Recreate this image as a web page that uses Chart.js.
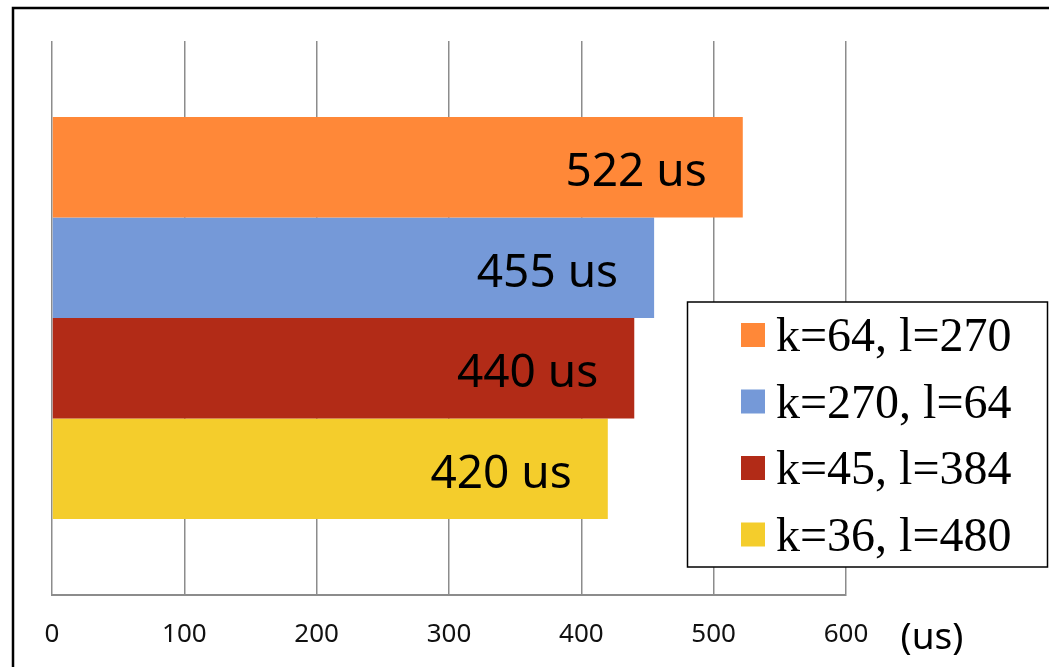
<!DOCTYPE html>
<html>
<head>
<meta charset="utf-8">
<style>
  html, body { margin: 0; padding: 0; background: #fff; }
  #wrap { width: 1049px; height: 667px; position: relative; }
</style>
<script src="https://cdn.jsdelivr.net/npm/chart.js@4/dist/chart.umd.min.js"></script>
</head>
<body>
<div id="wrap"><canvas id="c" width="1049" height="667"></canvas></div>
<script>
// Run times for each (k, l) configuration, in microseconds
const categories = [''];
const seriesLabels = ['k=64, l=270', 'k=270, l=64', 'k=45, l=384', 'k=36, l=480'];
const seriesValues = [[522], [455], [440], [420]];
const seriesColors = ['#FF8838', '#7599D8', '#B22B17', '#F4CD2C'];
const tickValues = [0, 100, 200, 300, 400, 500, 600];
const unitLabel = '(us)';

const sansFont = '"Noto Sans", "Open Sans", sans-serif';
const serifFont = '"Liberation Serif", "DejaVu Serif", serif';

// White page, outer frame and unit caption
const framePlugin = {
  id: 'frame',
  beforeDraw(chart) {
    const ctx = chart.ctx;
    ctx.save();
    ctx.fillStyle = '#ffffff';
    ctx.fillRect(0, 0, chart.width, chart.height);
    ctx.strokeStyle = '#000000';
    ctx.lineWidth = 2.5;
    ctx.beginPath();
    ctx.moveTo(13, chart.height + 5);
    ctx.lineTo(13, 8);
    ctx.lineTo(chart.width + 5, 8);
    ctx.stroke();
    ctx.restore();
  },
  afterDraw(chart) {
    const ctx = chart.ctx;
    ctx.save();
    ctx.fillStyle = '#000000';
    ctx.font = '37px ' + sansFont;
    ctx.textAlign = 'center';
    ctx.textBaseline = 'middle';
    ctx.fillText(unitLabel, 932, 638);
    ctx.restore();
  }
};

// Value labels inside the end of each bar
const valueLabelPlugin = {
  id: 'valueLabels',
  afterDatasetsDraw(chart) {
    const ctx = chart.ctx;
    ctx.save();
    ctx.font = '46px ' + sansFont;
    ctx.fillStyle = '#000000';
    ctx.textAlign = 'right';
    ctx.textBaseline = 'alphabetic';
    chart.data.datasets.forEach((ds, i) => {
      const meta = chart.getDatasetMeta(i);
      meta.data.forEach((bar, j) => {
        ctx.fillText(ds.data[j] + ' us', bar.x - 36, bar.y + 19);
      });
    });
    ctx.restore();
  }
};

// Boxed legend drawn over the plot area
const boxLegendPlugin = {
  id: 'boxLegend',
  afterDraw(chart) {
    const ctx = chart.ctx;
    const x = 687.5, y = 302, w = 360, h = 265;
    ctx.save();
    ctx.fillStyle = '#ffffff';
    ctx.fillRect(x, y, w, h);
    ctx.strokeStyle = '#000000';
    ctx.lineWidth = 1.5;
    ctx.strokeRect(x, y, w, h);
    ctx.font = '48px ' + serifFont;
    ctx.textAlign = 'left';
    ctx.textBaseline = 'alphabetic';
    chart.data.datasets.forEach((ds, i) => {
      const cy = 335 + i * 66.5;
      ctx.fillStyle = ds.backgroundColor;
      ctx.fillRect(741, cy - 12, 24, 24);
      ctx.fillStyle = '#000000';
      ctx.fillText(ds.label, 776, cy + 16);
    });
    ctx.restore();
  }
};

new Chart(document.getElementById('c'), {
  type: 'bar',
  data: {
    labels: categories,
    datasets: seriesLabels.map((label, i) => ({
      label: label,
      data: seriesValues[i],
      backgroundColor: seriesColors[i],
      borderWidth: 0,
      barPercentage: 1.0,
      categoryPercentage: 0.7256
    }))
  },
  options: {
    indexAxis: 'y',
    responsive: false,
    animation: false,
    devicePixelRatio: 1,
    layout: { padding: { left: 52, right: 203, top: 41, bottom: 0 } },
    plugins: {
      legend: { display: false },
      tooltip: { enabled: false }
    },
    scales: {
      x: {
        min: tickValues[0],
        max: tickValues[tickValues.length - 1],
        afterBuildTicks(scale) {
          scale.ticks = tickValues.map(v => ({ value: v }));
        },
        afterFit(scale) {
          scale.height = 72;
        },
        grid: { color: '#8c8c8c', lineWidth: 1.5, drawTicks: false },
        border: { display: true, color: '#8c8c8c', width: 2 },
        ticks: {
          padding: 24,
          color: '#111111',
          font: { family: sansFont, size: 26 }
        }
      },
      y: { display: false }
    }
  },
  plugins: [framePlugin, valueLabelPlugin, boxLegendPlugin]
});
</script>
</body>
</html>
